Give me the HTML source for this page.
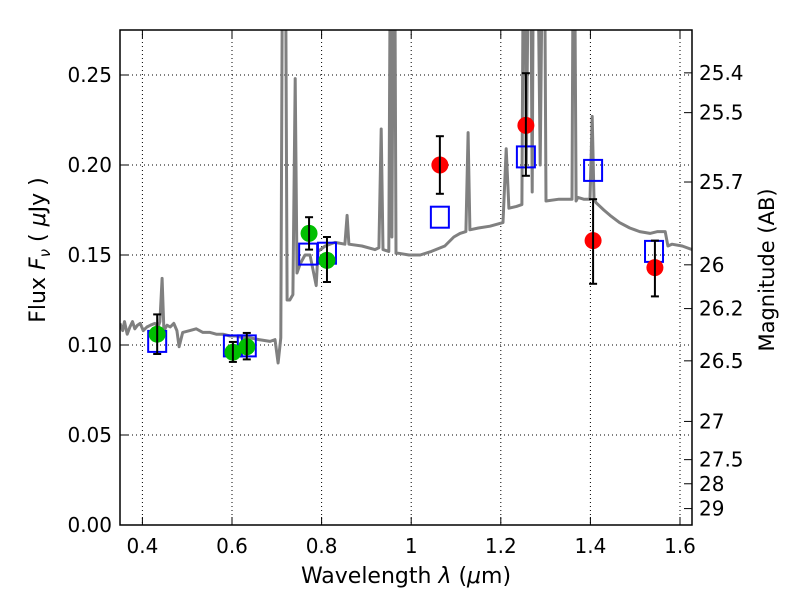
<!DOCTYPE html>
<html><head><meta charset="utf-8"><style>
body{margin:0;background:#fff}
svg text{font-family:"DejaVu Sans","Liberation Sans",sans-serif;fill:#000}
</style></head><body>
<svg id="chart" width="800" height="600" xmlns="http://www.w3.org/2000/svg">
<defs><clipPath id="clip"><rect x="120" y="30" width="572" height="495"/></clipPath></defs>
<rect x="0" y="0" width="800" height="600" fill="#fff"/>
<g id="grid"></g>
<g id="spec" clip-path="url(#clip)"></g>
<g id="marks" clip-path="url(#clip)"></g>
<rect x="120" y="30" width="572" height="495" fill="none" stroke="#000" stroke-width="1.5"/>
<g id="axes"></g>
<text x="406" y="583" font-size="22" text-anchor="middle">Wavelength  <tspan font-style="italic">λ</tspan> (<tspan font-style="italic">μ</tspan>m)</text>
<text transform="translate(45,250) rotate(-90)" font-size="22" text-anchor="middle">Flux  <tspan font-style="italic">F</tspan><tspan font-style="italic" font-size="15" dy="5">ν</tspan><tspan dy="-5">  (  <tspan font-style="italic">μ</tspan>Jy )</tspan></text>
<text transform="translate(774,270) rotate(-90)" font-size="21" text-anchor="middle">Magnitude (AB)</text>
</svg>
<script>
const specWave=[0.350,0.356,0.360,0.366,0.372,0.378,0.383,0.389,0.395,0.402,0.410,0.418,0.428,0.435,0.439,0.444,0.448,0.455,0.462,0.470,0.477,0.482,0.490,0.506,0.520,0.535,0.551,0.565,0.580,0.596,0.610,0.625,0.640,0.660,0.685,0.696,0.703,0.709,0.714,0.718,0.723,0.729,0.736,0.741,0.745,0.752,0.763,0.774,0.788,0.792,0.808,0.830,0.852,0.857,0.861,0.890,0.919,0.928,0.933,0.937,0.950,0.955,0.957,0.962,0.966,0.971,0.995,1.020,1.045,1.075,1.095,1.109,1.122,1.127,1.131,1.150,1.176,1.205,1.212,1.218,1.235,1.247,1.252,1.257,1.265,1.270,1.274,1.279,1.288,1.296,1.301,1.330,1.359,1.363,1.368,1.372,1.385,1.399,1.404,1.408,1.413,1.430,1.444,1.465,1.488,1.510,1.533,1.550,1.567,1.573,1.582,1.605,1.627];
const specFlux=[0.112,0.108,0.113,0.106,0.110,0.113,0.109,0.111,0.112,0.108,0.110,0.111,0.112,0.110,0.113,0.137,0.108,0.111,0.110,0.112,0.108,0.099,0.107,0.108,0.109,0.107,0.107,0.106,0.106,0.105,0.105,0.104,0.104,0.103,0.102,0.103,0.090,0.104,0.400,0.400,0.125,0.125,0.128,0.248,0.140,0.145,0.150,0.150,0.133,0.152,0.155,0.157,0.156,0.172,0.156,0.155,0.153,0.154,0.220,0.153,0.152,0.400,0.160,0.400,0.151,0.151,0.150,0.150,0.152,0.155,0.160,0.162,0.163,0.218,0.164,0.165,0.166,0.168,0.209,0.176,0.177,0.178,0.400,0.200,0.400,0.185,0.400,0.400,0.200,0.400,0.180,0.181,0.181,0.400,0.180,0.182,0.181,0.181,0.227,0.181,0.179,0.175,0.172,0.168,0.165,0.163,0.162,0.163,0.163,0.155,0.156,0.155,0.153];
const greenWave=[0.433,0.602,0.633,0.772,0.812];
const greenFlux=[0.106,0.096,0.099,0.162,0.147];
const greenHi=[0.117,0.1017,0.1067,0.171,0.160];
const greenLo=[0.095,0.0906,0.092,0.153,0.135];
const redWave=[1.064,1.256,1.406,1.544];
const redFlux=[0.200,0.222,0.158,0.143];
const redHi=[0.216,0.251,0.181,0.158];
const redLo=[0.184,0.194,0.134,0.127];
const boxWave=[0.433,0.602,0.633,0.770,0.812,1.064,1.256,1.406,1.542];
const boxFlux=[0.102,0.0995,0.0995,0.1505,0.151,0.171,0.2045,0.197,0.152];
const xTicks=[0.4,0.6,0.8,1.0,1.2,1.4,1.6];
const xTickLabels=["0.4","0.6","0.8","1","1.2","1.4","1.6"];
const yTicks=[0,0.05,0.10,0.15,0.20,0.25];
const yTickLabels=["0.00","0.05","0.10","0.15","0.20","0.25"];
const magTicks=[25.4,25.5,25.7,26,26.2,26.5,27,27.5,28,29];
const magLabels=["25.4","25.5","25.7","26","26.2","26.5","27","27.5","28","29"];

const NS="http://www.w3.org/2000/svg";
const X=v=>120+(v-0.35)*448;
const Y=v=>525-v*1800;
function mk(tag,attrs,parent){const e=document.createElementNS(NS,tag);for(const k in attrs)e.setAttribute(k,attrs[k]);parent.appendChild(e);return e;}
const grid=document.getElementById('grid'),spec=document.getElementById('spec'),marks=document.getElementById('marks'),axes=document.getElementById('axes');

xTicks.forEach((t,i)=>{
  const g=mk('line',{x1:X(t),x2:X(t),y1:30,y2:525,stroke:'#000','stroke-dasharray':'1,3','stroke-width':1},grid);
  
  
  mk('line',{x1:X(t),x2:X(t),y1:525,y2:517,stroke:'#000'},axes);
  mk('line',{x1:X(t),x2:X(t),y1:30,y2:38,stroke:'#000'},axes);
  const tx=mk('text',{x:X(t),y:553,'font-size':20,'text-anchor':'middle'},axes);
  tx.textContent=xTickLabels[i];
  
  
});
yTicks.forEach((t,i)=>{
  const g=mk('line',{x1:120,x2:692,y1:Y(t),y2:Y(t),stroke:'#000','stroke-dasharray':'1,3','stroke-width':1},grid);
  
  
  mk('line',{x1:120,x2:128,y1:Y(t),y2:Y(t),stroke:'#000'},axes);
  const tx=mk('text',{x:112,y:Y(t)+7,'font-size':20,'text-anchor':'end'},axes);
  tx.textContent=yTickLabels[i];
  
  
});
magTicks.forEach((m,i)=>{
  const f=Math.pow(10,(23.9-m)/2.5);
  const y=Y(f);
  mk('line',{x1:684,x2:692,y1:y,y2:y,stroke:'#000'},axes);
  const tx=mk('text',{x:699,y:y+7,'font-size':20},axes);
  tx.textContent=magLabels[i];
  
  
});

const pts=specWave.map((w,i)=>X(w).toFixed(1)+','+Y(specFlux[i]).toFixed(1)).join(' ');
const pl=mk('polyline',{points:pts,fill:'none',stroke:'#808080','stroke-width':3,'stroke-linejoin':'round'},spec);



boxWave.forEach((w,i)=>{
  const r=mk('rect',{x:X(w)-9,y:Y(boxFlux[i])-10.5,width:18,height:21,fill:'none',stroke:'#0000ff','stroke-width':2},marks);
  
  
});
function errbar(x,hi,lo){
  mk('line',{x1:x,x2:x,y1:Y(hi),y2:Y(lo),stroke:'#000','stroke-width':2},marks);
  mk('line',{x1:x-4,x2:x+4,y1:Y(hi),y2:Y(hi),stroke:'#000','stroke-width':2},marks);
  mk('line',{x1:x-4,x2:x+4,y1:Y(lo),y2:Y(lo),stroke:'#000','stroke-width':2},marks);
}
greenWave.forEach((w,i)=>{
  const c=mk('circle',{cx:X(w),cy:Y(greenFlux[i]),r:8.5,fill:'#00bf00'},marks);
  
  
  errbar(X(w),greenHi[i],greenLo[i]);
});
redWave.forEach((w,i)=>{
  const c=mk('circle',{cx:X(w),cy:Y(redFlux[i]),r:8.5,fill:'#ff0000'},marks);
  
  
  errbar(X(w),redHi[i],redLo[i]);
});
</script>
</body></html>
